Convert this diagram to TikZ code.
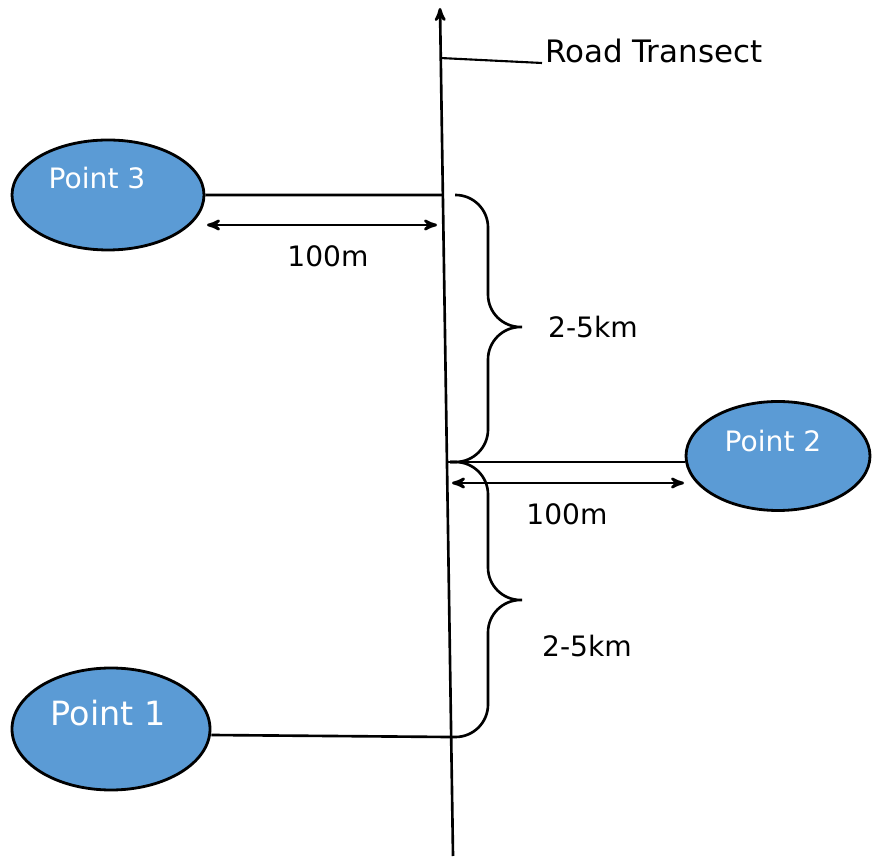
\documentclass[tikz,border=0pt]{standalone}
\usepackage{fontspec}
\setmainfont{DejaVu Sans}
\usepackage{xcolor}
\usepackage{tikz}
\usetikzlibrary{arrows,positioning,calc}
\usetikzlibrary{shapes}

\definecolor{ptblue}{HTML}{5B9BD5}

\begin{document}
\begin{tikzpicture}[>=stealth',line width=1.5pt,
			font=\fontsize{16}{18}\selectfont]
			\tikzstyle{every point}=[ellipse,draw=black,line width=1.6pt,fill=ptblue,inner sep=0pt]
			\tikzstyle{ptname}=[text=white,inner sep=1pt]
			\tikzstyle{gap}=[rounded corners=0.65cm]
			
			\useasboundingbox (0,0) rectangle (17.44,17.12);
			
			\coordinate (RB) at (9.06,0);
			
			\coordinate (RT) at (8.80,16.96);
			
			\coordinate (R3) at ($(RB)!0.7795!(RT)$);
			
			\coordinate (R2) at ($(RB)!0.4646!(RT)$);
			
			\coordinate (R1) at ($(RB)!0.1403!(RT)$);
			
			\coordinate (RL) at ($(RB)!0.9410!(RT)$);
			
			\draw[->] (RB) -- (RT);
			
			\node[anchor=base west,inner sep=1pt,font=\fontsize{17.6}{19}\selectfont] (road) at (10.84,15.86) {Road Transect};
			
			\draw[line width=1.2pt] (RL) -- (road.base west);
			
			\node[every point,minimum width=3.84cm,minimum height=2.2cm] (P3) at (2.16,13.22) {};
			
			\node[ptname] (t3) at ($(P3)+(-0.22,0.34)$) {Point 3};
			
			\node[every point,minimum width=3.68cm,minimum height=2.18cm] (P2) at (15.56,8.0) {};
			
			\node[ptname] (t2) at ($(P2)+(-0.1,0.3)$) {Point 2};
			
			\node[every point,minimum width=3.96cm,minimum height=2.44cm] (P1) at (2.22,2.54) {};
			
			\node[ptname,font=\fontsize{19}{21}\selectfont] (t1) at ($(P1)+(-0.06,0.32)$) {Point 1};
			
			\draw (P3.east) -- (R3);
			
			\draw (R2) -- (R2 -| P2.west);
			
			\draw ([yshift=-0.12cm]P1.east) -- (R1);
			
			\coordinate (D3a) at (4.14,12.62);
			
			\coordinate (D3b) at (8.74,12.62);
			
			\draw[<->] (D3a) -- (D3b);
			
			\node (d3) at (6.56,12.0) {100m};
			
			\coordinate (D2a) at (9.04,7.46);
			
			\coordinate (D2b) at (13.68,7.46);
			
			\draw[<->] (D2a) -- (D2b);
			
			\node (d2) at (11.34,6.84) {100m};
			
			\coordinate (B1a) at (9.10,13.22);
			
			\coordinate (K1) at (10.44,10.58);
			
			\coordinate (B1b) at (9.00,7.88);
			
			\coordinate (K2) at (10.44,5.12);
			
			\coordinate (B2b) at (9.04,2.38);
			
			\draw[gap] (B1a) -- (9.76,13.22) -- (9.76,10.58) -- (K1)
			(K1) -- (9.76,10.58) -- (9.76,7.88) -- (B1b);
			
			\draw[gap] (B1b) -- (9.76,7.88) -- (9.76,5.12) -- (K2)
			(K2) -- (9.76,5.12) -- (9.76,2.38) -- (B2b);
			
			\node (k1) at (11.86,10.58) {2-5km};
			
			\node (k2) at (11.74,4.2) {2-5km};
			
			\end{tikzpicture}
\end{document}
